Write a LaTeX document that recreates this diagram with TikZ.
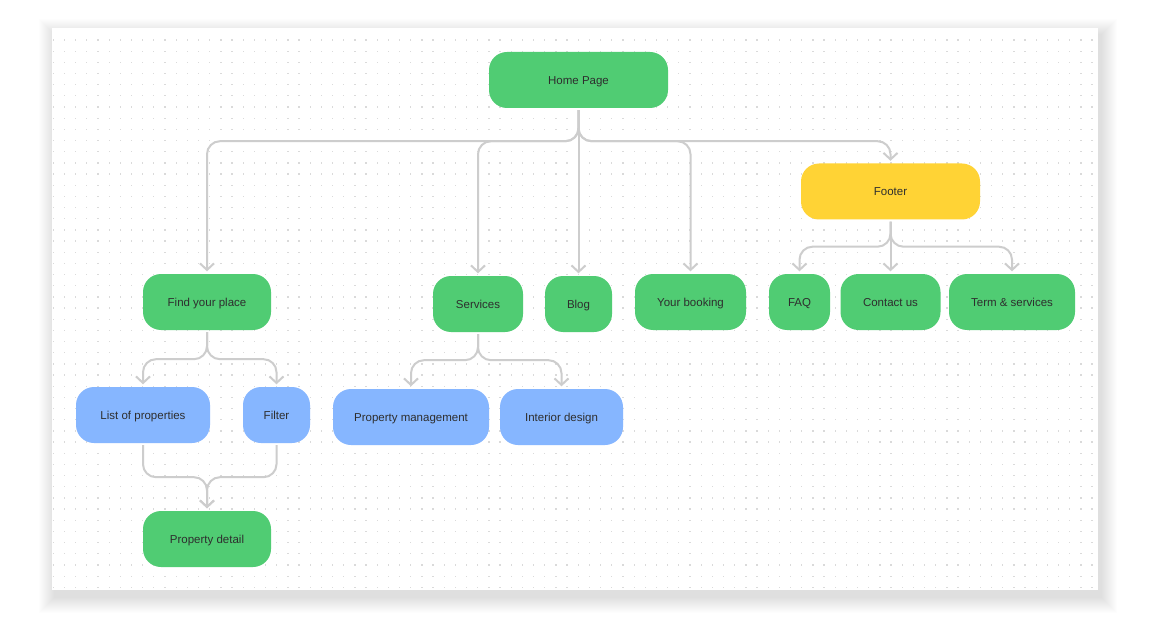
\documentclass[tikz,border=0pt]{standalone}
\usepackage{fontspec}
\setmainfont{Liberation Sans}
\usetikzlibrary{arrows.meta}
\definecolor{gr}{HTML}{50CC73}
\definecolor{bl}{HTML}{86B6FF}
\definecolor{ye}{HTML}{FFD335}
\definecolor{lc}{HTML}{CDCDCD}
\definecolor{tx}{HTML}{2E2E2E}
\definecolor{dt}{HTML}{DADADA}
\tikzset{
  box/.style={rounded corners=18pt, minimum height=56pt, inner sep=0pt, text=tx,
    text height=8.3pt, text depth=0pt,
    font=\fontsize{11.5pt}{14pt}\selectfont},
  gbox/.style={box, fill=gr},
  bbox/.style={box, fill=bl},
  ybox/.style={box, fill=ye},
  edge/.style={draw=lc, line width=2pt, rounded corners=13pt,
    -{Straight Barb[length=6.5pt,width=14pt]}, shorten >=2.5pt, shorten <=2pt}
}
\begin{document}
\begin{tikzpicture}[x=1pt,y=-1pt]
\useasboundingbox (0,0) rectangle (1150,620);
\fill[white] (0,0) rectangle (1150,620);
% shadow
\foreach \i in {1,...,16}{
  \fill[black, opacity=0.009] (52-\i+3,28-\i+7) rectangle (1098+\i+3,590+\i+7);
}
\fill[white] (52,28) rectangle (1098,590);
% dot grid
\foreach \i in {0,...,93}{
  \foreach \j in {0,...,49}{
    \fill[dt] (53.3+11.17*\i-0.65,40+11.17*\j-0.65) rectangle ++(1.3,1.3);
  }
}
% nodes
\node[gbox, minimum width=179pt] (home) at (578.5,80) {Home Page};
\node[ybox, minimum width=179pt] (footer) at (890.5,191.5) {Footer};
\node[gbox, minimum width=128pt] (find) at (207,302) {Find your place};
\node[gbox, minimum width=90pt] (serv) at (478,304) {Services};
\node[gbox, minimum width=67pt] (blog) at (578.5,304) {Blog};
\node[gbox, minimum width=111pt] (book) at (690.5,302) {Your booking};
\node[gbox, minimum width=61pt] (faq) at (799.5,302) {FAQ};
\node[gbox, minimum width=100pt] (contact) at (890.5,302) {Contact us};
\node[gbox, minimum width=126pt] (term) at (1012,302) {Term \& services};
\node[bbox, minimum width=134pt] (list) at (143,415) {List of properties};
\node[bbox, minimum width=67pt] (filter) at (276.5,415) {Filter};
\node[bbox, minimum width=156pt] (pm) at (411,417) {Property management};
\node[bbox, minimum width=123pt] (id) at (561.5,417) {Interior design};
\node[gbox, minimum width=128pt] (pd) at (207,539) {Property detail};
% edges from home
\draw[edge] (home.south) -- ++(0,33) -| (find.north);
\draw[edge] (home.south) -- ++(0,33) -| (serv.north);
\draw[edge] (home.south) -- (blog.north);
\draw[edge] (home.south) -- ++(0,33) -| (book.north);
\draw[edge] (home.south) -- ++(0,33) -| (footer.north);
% footer
\draw[edge] (footer.south) -- ++(0,27) -| (faq.north);
\draw[edge] (footer.south) -- (contact.north);
\draw[edge] (footer.south) -- ++(0,27) -| (term.north);
% find
\draw[edge] (find.south) -- ++(0,29) -| (list.north);
\draw[edge] (find.south) -- ++(0,29) -| (filter.north);
% services
\draw[edge] (serv.south) -- ++(0,28) -| (pm.north);
\draw[edge] (serv.south) -- ++(0,28) -| (id.north);
% merge
\draw[edge] (list.south) -- ++(0,34) -| (pd.north);
\draw[edge] (filter.south) -- ++(0,34) -| (pd.north);
\end{tikzpicture}
\end{document}
